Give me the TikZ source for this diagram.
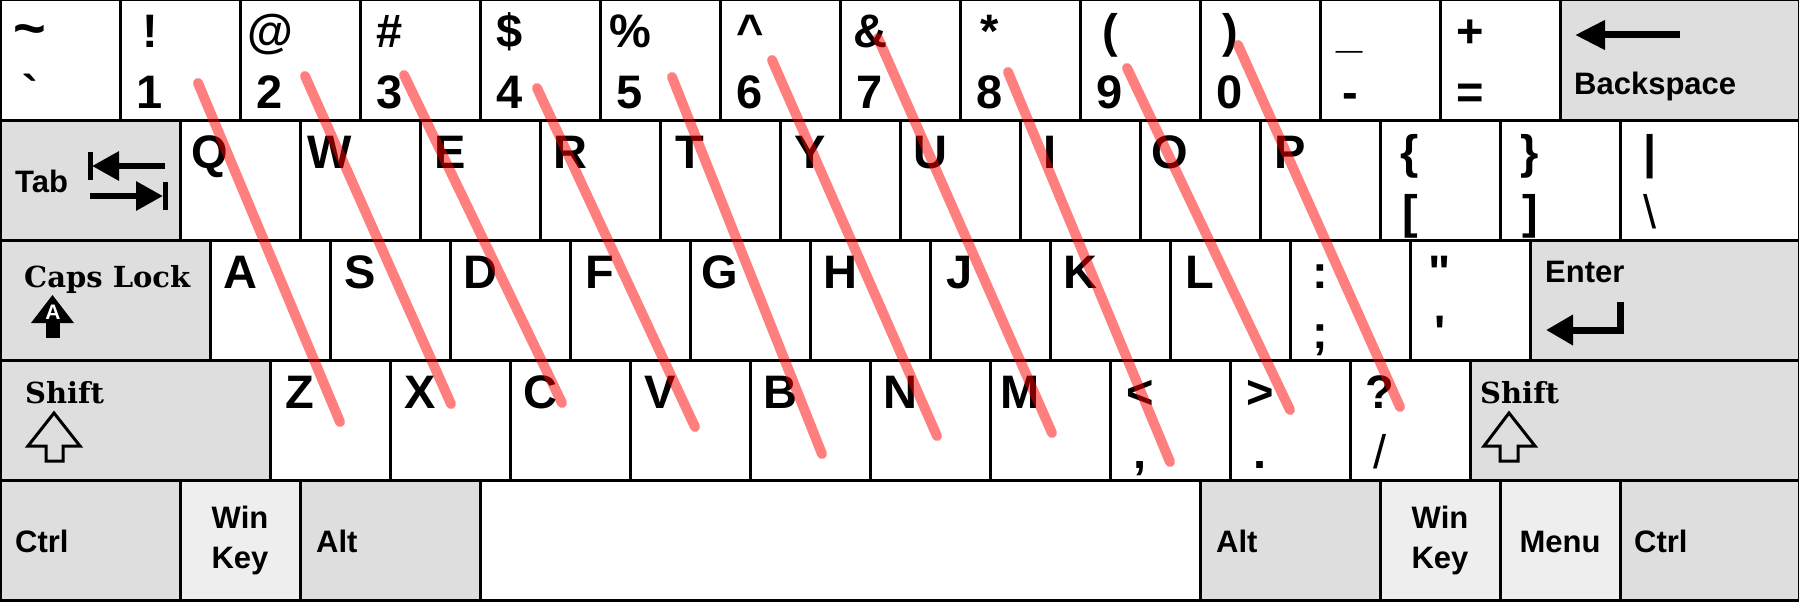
\documentclass[tikz,border=0pt]{standalone}
\usepackage{fontspec}
\setmainfont{Liberation Sans}
\newfontfamily\serifcap{DejaVu Serif}
\usetikzlibrary{arrows.meta}
\definecolor{modgray}{HTML}{DEDEDE}
\definecolor{wingray}{HTML}{EEEEEE}

\begin{document}
\begin{tikzpicture}
        [x=1pt, y=-1pt,
        keycap/.style={draw, line width=3pt, fill=white, anchor=north west, outer sep=0pt,
            inner sep=0pt, minimum height=120pt, minimum width=#1},
        keycap/.default=120pt,
        mod/.style={keycap=#1, fill=modgray},
        win/.style={keycap=#1, fill=wingray},
        glyph/.style={font=\fontsize{47}{47}\selectfont\bfseries, inner sep=0pt, anchor=base, xshift=30pt},
        sym/.style 2 args={keycap, label={[glyph, yshift=-48pt]north west:{#1}},
            label={[glyph, yshift=-108pt]north west:{#2}}},
        letter/.style={keycap, label={[glyph, yshift=-48pt]north west:{#1}}},
        word/.style={font=\fontsize{31}{31}\selectfont\bfseries, inner sep=0pt, anchor=base west},
        serifword/.style={font=\fontsize{29}{29}\selectfont\serifcap\bfseries, inner sep=0pt, anchor=base west},
        finger/.style={red, draw opacity=0.5, line width=10pt, line cap=round},
        icon/.style={line width=7pt}]

        \useasboundingbox (0,0) rectangle (1799,602);

        % number row
        \node[sym={\fontsize{56}{56}\selectfont\textasciitilde}{\textasciigrave}] (ktilde) at (0,0) {};
        \node[sym={!}{1}] (k1) at (120,0) {};
        \node[sym={@}{2}] (k2) at (240,0) {};
        \node[sym={\#}{3}] (k3) at (360,0) {};
        \node[sym={\$}{4}] (k4) at (480,0) {};
        \node[sym={\%}{5}] (k5) at (600,0) {};
        \node[sym={\textasciicircum}{6}] (k6) at (720,0) {};
        \node[sym={\&}{7}] (k7) at (840,0) {};
        \node[sym={*}{8}] (k8) at (960,0) {};
        \node[sym={(}{9}] (k9) at (1080,0) {};
        \node[sym={)}{0}] (k0) at (1200,0) {};
        \node[sym={\_}{-}] (kminus) at (1320,0) {};
        \node[sym={+}{=}] (kequal) at (1440,0) {};
        \node[mod=239pt] (kback) at (1560,0) {};

        % top letter row
        \node[mod=180pt] (ktab) at (0,120) {};
        \node[letter=Q] (kq) at (180,120) {};
        \node[letter=W] (kw) at (300,120) {};
        \node[letter=E] (ke) at (420,120) {};
        \node[letter=R] (kr) at (540,120) {};
        \node[letter=T] (kt) at (660,120) {};
        \node[letter=Y] (ky) at (780,120) {};
        \node[letter=U] (ku) at (900,120) {};
        \node[letter=I] (ki) at (1020,120) {};
        \node[letter=O] (ko) at (1140,120) {};
        \node[letter=P] (kp) at (1260,120) {};
        \node[sym={\{}{[}] (klbrack) at (1380,120) {};
        \node[sym={\}}{]}] (krbrack) at (1500,120) {};
        \node[sym={|}{\mdseries\textbackslash}, minimum width=179pt] (kbslash) at (1620,120) {};

        % home row
        \node[mod=210pt] (kcaps) at (0,240) {};
        \node[letter=A] (ka) at (210,240) {};
        \node[letter=S] (ks) at (330,240) {};
        \node[letter=D] (kd) at (450,240) {};
        \node[letter=F] (kf) at (570,240) {};
        \node[letter=G] (kg) at (690,240) {};
        \node[letter=H] (kh) at (810,240) {};
        \node[letter=J] (kj) at (930,240) {};
        \node[letter=K] (kk) at (1050,240) {};
        \node[letter=L] (kl) at (1170,240) {};
        \node[sym={:}{;}] (ksemi) at (1290,240) {};
        \node[sym={\textquotedbl}{\textquotesingle}] (kquote) at (1410,240) {};
        \node[mod=269pt] (kenter) at (1530,240) {};

        % bottom letter row
        \node[mod=270pt] (klshift) at (0,360) {};
        \node[letter=Z] (kz) at (270,360) {};
        \node[letter=X] (kx) at (390,360) {};
        \node[letter=C] (kc) at (510,360) {};
        \node[letter=V] (kv) at (630,360) {};
        \node[letter=B] (kb) at (750,360) {};
        \node[letter=N] (kn) at (870,360) {};
        \node[letter=M] (km) at (990,360) {};
        \node[sym={<}{,}] (kcomma) at (1110,360) {};
        \node[sym={>}{.}] (kdot) at (1230,360) {};
        \node[sym={?}{\mdseries/}] (kslash) at (1350,360) {};
        \node[mod=329pt] (krshift) at (1470,360) {};

        % space row
        \node[mod=180pt] (klctrl) at (0,480) {};
        \node[win=120pt] (klwin) at (180,480) {};
        \node[mod=180pt] (klalt) at (300,480) {};
        \node[keycap=720pt] (kspace) at (480,480) {};
        \node[mod=180pt] (kralt) at (1200,480) {};
        \node[win=120pt] (krwin) at (1380,480) {};
        \node[win=120pt] (kmenu) at (1500,480) {};
        \node[mod=179pt] (krctrl) at (1620,480) {};

        % Backspace
        \draw[icon, -{Triangle[length=30pt, width=28pt]}] (1680,35) -- (1575,35);
        \node[word] (backtxt) at (1574,94) {Backspace};

        % Tab: two arrows with stops
        \node[word] (tabtxt) at (15,192) {Tab};
        \draw[line width=5pt] (90,152) -- (90,180);
        \draw[line width=6pt, -{Triangle[length=27pt, width=28pt]}] (165,166) -- (92,166);
        \draw[line width=6pt, -{Triangle[length=27pt, width=28pt]}] (90,196) -- (163,196);
        \draw[line width=5pt] (165.5,182) -- (165.5,210);

        % Caps Lock
        \node[serifword] (capstxt) at (24,287) {Caps Lock};
        \fill (31,323) -- (52.5,295) -- (74,323) -- cycle;
        \fill (46,322) rectangle (60,338);
        \node[font=\fontsize{21}{21}\selectfont\bfseries, text=white, inner sep=0pt, anchor=base] (capsA) at (53,319) {A};

        % Enter
        \node[word] (entertxt) at (1545,282) {Enter};
        \draw[icon, line join=miter, -{Triangle[length=27pt, width=29pt]}] (1620,302) -- (1620,330) -- (1546,330);

        % Shift keys (hollow arrows)
        \node[serifword] (lshifttxt) at (25,403) {Shift};
        \draw[line width=3pt] (54,413) -- (80,446) -- (63,446) -- (63,461) -- (46,461) -- (46,446) -- (28,446) -- cycle;
        \node[serifword] (rshifttxt) at (1480,403) {Shift};
        \draw[line width=3pt] (1509,413) -- (1535,446) -- (1518,446) -- (1518,461) -- (1500,461) -- (1500,446) -- (1484,446) -- cycle;

        % space row texts
        \node[word] (lctrltxt) at (15,552) {Ctrl};
        \node[word, anchor=base] (lwintxt) at (240,528) {Win};
        \node[word, anchor=base] (lkeytxt) at (240,568) {Key};
        \node[word] (lalttxt) at (316,552) {Alt};
        \node[word] (ralttxt) at (1216,552) {Alt};
        \node[word, anchor=base] (rwintxt) at (1440,528) {Win};
        \node[word, anchor=base] (rkeytxt) at (1440,568) {Key};
        \node[word, anchor=base] (menutxt) at (1560,552) {Menu};
        \node[word] (rctrltxt) at (1634,552) {Ctrl};

        % finger strokes: number key down to bottom row
        \draw[finger] ([xshift=78pt, yshift=-83pt]k1.north west) -- ([xshift=70pt, yshift=-62pt]kz.north west);
        \draw[finger] ([xshift=65pt, yshift=-76pt]k2.north west) -- ([xshift=61pt, yshift=-44pt]kx.north west);
        \draw[finger] ([xshift=44pt, yshift=-75pt]k3.north west) -- ([xshift=52pt, yshift=-43pt]kc.north west);
        \draw[finger] ([xshift=57pt, yshift=-88pt]k4.north west) -- ([xshift=65pt, yshift=-67pt]kv.north west);
        \draw[finger] ([xshift=72pt, yshift=-77pt]k5.north west) -- ([xshift=72pt, yshift=-94pt]kb.north west);
        \draw[finger] ([xshift=52pt, yshift=-60pt]k6.north west) -- ([xshift=67pt, yshift=-76pt]kn.north west);
        \draw[finger] ([xshift=38pt, yshift=-38pt]k7.north west) -- ([xshift=62pt, yshift=-73pt]km.north west);
        \draw[finger] ([xshift=48pt, yshift=-72pt]k8.north west) -- ([xshift=60pt, yshift=-102pt]kcomma.north west);
        \draw[finger] ([xshift=47pt, yshift=-68pt]k9.north west) -- ([xshift=60pt, yshift=-50pt]kdot.north west);
        \draw[finger] ([xshift=38pt, yshift=-45pt]k0.north west) -- ([xshift=50pt, yshift=-47pt]kslash.north west);
\end{tikzpicture}
\end{document}
